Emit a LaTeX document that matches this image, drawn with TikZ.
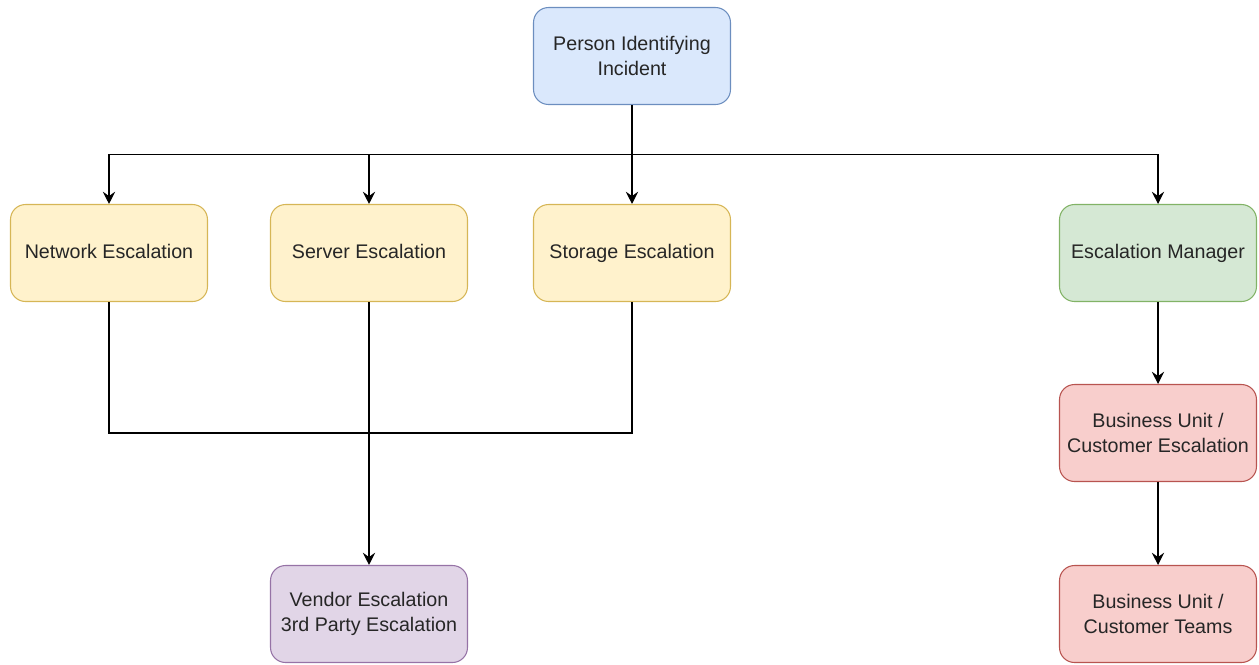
\documentclass[tikz,border=0pt]{standalone}
\usepackage{fontspec}
\setmainfont{Liberation Sans}
\usetikzlibrary{arrows.meta}
\definecolor{blueFill}{HTML}{DAE8FC}\definecolor{blueLine}{HTML}{6C8EBF}
\definecolor{yellowFill}{HTML}{FFF2CC}\definecolor{yellowLine}{HTML}{D6B656}
\definecolor{greenFill}{HTML}{D5E8D4}\definecolor{greenLine}{HTML}{82B366}
\definecolor{redFill}{HTML}{F8CECC}\definecolor{redLine}{HTML}{B85450}
\definecolor{purpleFill}{HTML}{E1D5E7}\definecolor{purpleLine}{HTML}{9673A6}
\definecolor{txt}{HTML}{262626}
\tikzset{
  box/.style={draw, rounded corners=0.3cm, minimum width=3.94cm, minimum height=1.94cm,
    align=center, line width=0.6pt, text=txt, font=\fontsize{11.2}{14}\selectfont},
  oneLine/.style={text height=1.6ex, text depth=0.45ex},
  blueBox/.style={box, fill=blueFill, draw=blueLine},
  yellowBox/.style={box, oneLine, fill=yellowFill, draw=yellowLine},
  greenBox/.style={box, fill=greenFill, draw=greenLine},
  redBox/.style={box, fill=redFill, draw=redLine},
  purpleBox/.style={box, fill=purpleFill, draw=purpleLine},
  link/.style={line width=0.75pt},
  arr/.style={link, -{Stealth[length=7pt, width=7pt, inset=2.5pt]}}
}
\begin{document}
\begin{tikzpicture}[x=0.02cm, y=-0.02cm]
  \useasboundingbox (0,0) rectangle (1259,664);

  % Meldung
  \node[blueBox] (person) at (632,56) {Person Identifying\\Incident};

  % Eskalationsstufen
  \node[yellowBox] (network) at (109,253) {Network Escalation};
  \node[yellowBox] (server) at (369,253) {Server Escalation};
  \node[yellowBox] (storage) at (632,253) {Storage Escalation};
  \node[greenBox, oneLine] (manager) at (1158,253) {Escalation Manager};

  % Business-Seite
  \node[redBox] (buEsc) at (1158,433) {Business Unit /\\Customer Escalation};
  \node[redBox] (buTeams) at (1158,614) {Business Unit /\\Customer Teams};

  % Hersteller
  \node[purpleBox] (vendor) at (369,614) {Vendor Escalation\\3rd Party Escalation};

  % Verteilung
  \draw[arr] (person.south) -- ++(0,49.5) -| (network.north);
  \draw[arr] (person.south) -- ++(0,49.5) -| (server.north);
  \draw[arr] (person.south) -- (storage.north);
  \draw[arr] (person.south) -- ++(0,49.5) -| (manager.north);

  % Sammelleitung unten
  \draw[link] (network.south) -- ++(0,131) -| (storage.south);
  \draw[arr] (server.south) -- (vendor.north);

  % rechte Kette
  \draw[arr] (manager) -- (buEsc);
  \draw[arr] (buEsc) -- (buTeams);
\end{tikzpicture}
\end{document}
